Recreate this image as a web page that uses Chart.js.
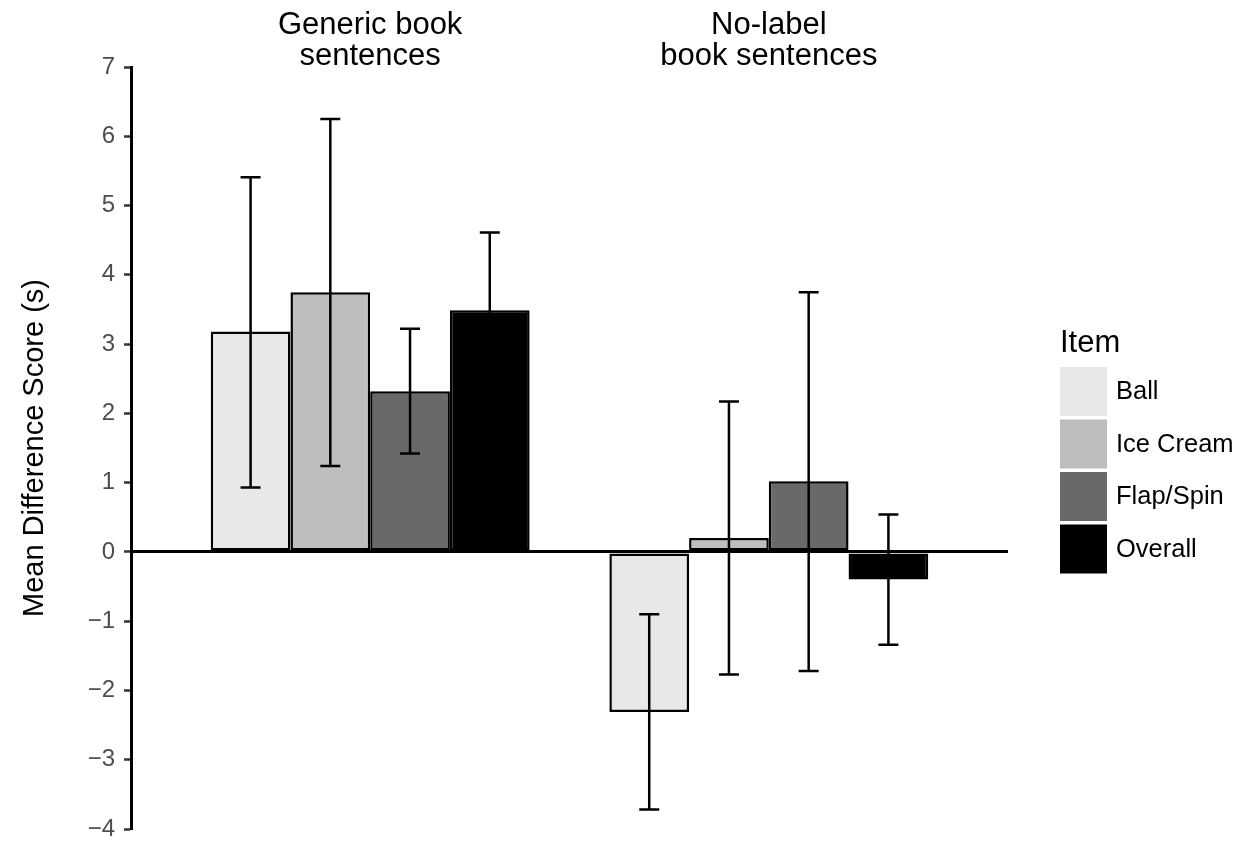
<!DOCTYPE html>
<html>
<head>
<meta charset="utf-8">
<script src="https://cdn.jsdelivr.net/npm/chart.js@4/dist/chart.umd.min.js"></script>
<style>
  body { margin: 0; background: #fff; }
  #wrap { width: 1256px; height: 850px; }
</style>
</head>
<body>
<div id="wrap"><canvas id="chart" width="1256" height="850"></canvas></div>
<script>
// Groups along the top, items in each group
const groupLabels = [["Generic book", "sentences"], ["No-label", "book sentences"]];
const items = ["Ball", "Ice Cream", "Flap/Spin", "Overall"];
const itemColors = ["#e8e8e8", "#bebebe", "#696969", "#000000"];

// Mean difference score per item, one value per group
const ballMean = [3.18, -2.31];
const iceMean = [3.75, 0.20];
const flapMean = [2.32, 1.02];
const overallMean = [3.49, -0.40];

// Error bar ends
const ballLow = [0.93, -3.72];
const ballHigh = [5.41, -0.90];
const iceLow = [1.24, -1.77];
const iceHigh = [6.25, 2.17];
const flapLow = [1.42, -1.72];
const flapHigh = [3.22, 3.75];
const overallLow = [2.37, -1.34];
const overallHigh = [4.61, 0.54];

const yTicks = [-4, -3, -2, -1, 0, 1, 2, 3, 4, 5, 6, 7];

const means = [ballMean, iceMean, flapMean, overallMean];
const lows = [ballLow, iceLow, flapLow, overallLow];
const highs = [ballHigh, iceHigh, flapHigh, overallHigh];

const FONT = "'Liberation Sans', Helvetica, Arial, sans-serif";

const datasets = items.map((name, k) => ({
  label: name,
  data: means[k].map((v, i) => ({ x: i + 1, y: v })),
  low: lows[k],
  high: highs[k],
  backgroundColor: itemColors[k],
  borderColor: "#000",
  borderWidth: 2.5,
  borderSkipped: false,
  barPercentage: 1,
  categoryPercentage: 0.8,
}));

// error bars drawn on top of the bars
const errorBars = {
  id: "errorBars",
  afterDatasetsDraw(chart) {
    const ctx = chart.ctx;
    const y = chart.scales.y;
    ctx.save();
    ctx.strokeStyle = "#000";
    ctx.lineWidth = 2.5;
    chart.data.datasets.forEach((ds, k) => {
      const meta = chart.getDatasetMeta(k);
      meta.data.forEach((bar, i) => {
        const top = y.getPixelForValue(ds.high[i]);
        const bot = y.getPixelForValue(ds.low[i]);
        const x = bar.x;
        ctx.beginPath();
        ctx.moveTo(x, top);
        ctx.lineTo(x, bot);
        ctx.moveTo(x - 10, top);
        ctx.lineTo(x + 10, top);
        ctx.moveTo(x - 10, bot);
        ctx.lineTo(x + 10, bot);
        ctx.stroke();
      });
    });
    ctx.restore();
  },
};

// ggplot-like legend on the right
const sideLegend = {
  id: "sideLegend",
  afterDraw(chart) {
    const ctx = chart.ctx;
    const left = 1060;
    ctx.save();
    ctx.fillStyle = "#000";
    ctx.textAlign = "left";
    ctx.textBaseline = "alphabetic";
    ctx.font = "31px " + FONT;
    ctx.fillText("Item", left, 352);
    ctx.font = "25.5px " + FONT;
    ctx.textBaseline = "middle";
    chart.data.datasets.forEach((ds, k) => {
      const top = 367 + k * 52.5;
      ctx.fillStyle = ds.backgroundColor;
      ctx.fillRect(left, top, 47, 49);
      ctx.fillStyle = "#000";
      ctx.fillText(ds.label, 1116, top + 25);
    });
    ctx.restore();
  },
};

new Chart(document.getElementById("chart"), {
  type: "bar",
  data: { datasets: datasets },
  options: {
    responsive: false,
    animation: false,
    layout: { padding: { left: 0, top: 0, right: 248, bottom: 14 } },
    plugins: {
      legend: { display: false },
      tooltip: { enabled: false },
    },
    scales: {
      x: {
        type: "linear",
        position: "top",
        offset: false,
        min: 0.4,
        max: 2.6,
        grid: { display: false, drawTicks: false, offset: false },
        border: { display: false },
        afterBuildTicks(scale) {
          scale.ticks = groupLabels.map((g, i) => ({ value: i + 1 }));
        },
        afterFit(scale) {
          scale.height = 67;
        },
        ticks: {
          autoSkip: false,
          maxRotation: 0,
          padding: -5,
          color: "#000",
          font: { family: FONT, size: 31, lineHeight: 1.0 },
          callback: (v) => groupLabels[v - 1] || "",
        },
      },
      y: {
        min: -4,
        max: 7,
        afterBuildTicks(scale) {
          scale.ticks = yTicks.map((v) => ({ value: v }));
        },
        afterFit(scale) {
          scale.width = 131;
        },
        grid: {
          drawOnChartArea: true,
          drawTicks: true,
          tickLength: 7,
          tickColor: "#333",
          tickWidth: 2.5,
          color: (c) => (c.tick && c.tick.value === 0 ? "#000" : "rgba(0,0,0,0)"),
          lineWidth: (c) => (c.tick && c.tick.value === 0 ? 3 : 1),
        },
        border: { display: true, color: "#000", width: 3 },
        ticks: {
          padding: 9,
          color: "#4d4d4d",
          font: { family: FONT, size: 24, lineHeight: 1 },
          callback: (v) => (v < 0 ? "\u2212" + Math.abs(v) : String(v)),
        },
        title: {
          display: true,
          text: "Mean Difference Score (s)",
          color: "#000",
          padding: { top: 18, bottom: 0 },
          font: { family: FONT, size: 29 },
        },
      },
    },
  },
  plugins: [errorBars, sideLegend],
});
</script>
</body>
</html>
